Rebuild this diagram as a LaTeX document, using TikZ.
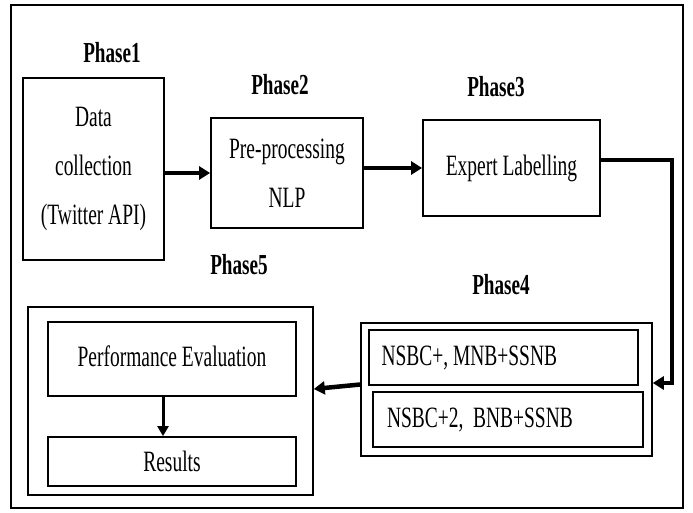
\documentclass[tikz,border=0pt]{standalone}
\usepackage{fontspec}
\setmainfont[FakeStretch=0.66]{Liberation Serif}
\usetikzlibrary{arrows.meta}
\begin{document}
\begin{tikzpicture}[x=1pt,y=-1pt,
  box/.style={draw,line width=1.8pt,inner sep=0pt,align=center,font=\fontsize{29.5}{49}\selectfont},
  phase/.style={font=\fontsize{29}{32}\selectfont\bfseries},
  arr/.style={line width=4.5pt,-{Triangle[length=11pt,width=13pt]}}]
\useasboundingbox (0,0) rectangle (693,513);
\draw[line width=1.2pt] (11,5) rectangle (683,508);
% phase labels
\node[phase] (l1) at (112,53) {Phase1};
\node[phase] (l2) at (280,85) {Phase2};
\node[phase] (l3) at (496,87) {Phase3};
\node[phase] (l4) at (501,285) {Phase4};
\node[phase] (l5) at (239,265) {Phase5};
% phase 1-3 boxes
\node[box,minimum width=141pt,minimum height=182pt] (p1) at (93.5,169) {Data\\collection\\(Twitter API)};
\node[box,minimum width=152pt,minimum height=110pt] (p2) at (287,173) {Pre-processing\\NLP};
\node[box,minimum width=177pt,minimum height=96pt] (p3) at (511.5,168) {\raisebox{6pt}{Expert Labelling}};
% phase 4
\node[draw,line width=1.6pt,minimum width=291pt,minimum height=133pt,inner sep=0pt] (p4) at (506.5,389.5) {};
\node[box,minimum width=269pt,minimum height=55pt,align=flush left,text width=244pt] (a1) at (503.5,357.5) {NSBC+, MNB+SSNB};
\node[box,minimum width=270pt,minimum height=55pt,align=flush left,text width=242pt] (a2) at (508,419.5) {NSBC+2,\ \ BNB+SSNB};
% phase 5
\node[draw,line width=1.6pt,minimum width=285pt,minimum height=188pt,inner sep=0pt] (p5) at (170.5,401) {};
\node[box,minimum width=248pt,minimum height=74pt] (pe) at (172,359) {\raisebox{6pt}{Performance Evaluation}};
\node[box,minimum width=248pt,minimum height=49pt] (rs) at (172,461.5) {\raisebox{-3pt}{Results}};
% connectors
\draw[arr] (p1.east |- p2.west) -- (p2.west);
\draw[arr] (p2.east |- p3.west) -- (p3.west);
\coordinate (c1) at (672,160);
\coordinate (c2) at (672,383);
\draw[arr] ([yshift=8pt]p3.east) -- (c1) -- (c2) -- ([yshift=6.5pt]p4.east);
\draw[arr] ([yshift=5pt]p4.west) -- ([yshift=12pt]p5.east);
\draw[line width=3pt,-{Triangle[length=10pt,width=11pt]}] (pe.south -| 163,0) -- (rs.north -| 163,0);
\end{tikzpicture}
\end{document}
